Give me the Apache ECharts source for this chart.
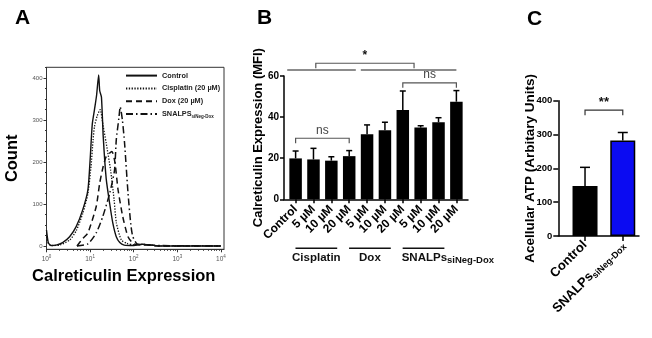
<!DOCTYPE html>
<html>
<head>
<meta charset="utf-8">
<script src="https://cdn.jsdelivr.net/npm/echarts@6/dist/echarts.min.js"></script>
<style>
html, body { margin: 0; padding: 0; background: #fff; }
#chart { width: 652px; height: 338px; }
</style>
</head>
<body>
<div id="chart"></div>
<script>
// ---- panel A: flow cytometry histograms, [intensity, count] ----
const histControl = [[1, 38], [1.1, 8], [1.26, 1], [1.66, 2], [2.34, 8], [3.39, 22], [4.79, 46], [6.76, 86],
  [8.91, 134], [10, 205], [11.2, 290], [12.6, 325], [14.1, 360], [15.7, 408], [16.6, 370], [18.2, 355],
  [20, 260], [23.4, 160], [28.2, 100], [33.1, 55], [39.8, 22], [47.9, 8], [60.3, 2], [100, 1], [158, 4],
  [251, 2], [398, 0], [10000, 0]];
const histCisplatin = [[1, 22], [1.1, 6], [1.3, 1], [2, 2], [3.4, 14], [4.8, 36], [6.8, 78], [8.9, 125],
  [10.5, 190], [11.7, 253], [12.6, 285], [14.5, 310], [17, 325], [20, 285], [23.4, 245], [29.5, 181],
  [35.5, 110], [40, 55], [52, 14], [70, 6], [100, 3], [160, 4], [250, 2], [400, 0], [10000, 0]];
const histDox = [[5, 0], [6.8, 18], [8.9, 31], [13.8, 94], [16.6, 150], [20, 190], [23.4, 213], [31.6, 225],
  [37, 200], [43.7, 134], [56, 70], [74, 22], [100, 5], [200, 2], [400, 0], [10000, 0]];
const histSnalps = [[5, 0], [8.9, 5], [13.8, 31], [19.5, 70], [28.2, 126], [36.3, 181], [39.8, 253],
  [45.7, 305], [49, 332], [55, 300], [61.7, 245], [74, 126], [86, 50], [95.5, 22], [123, 4], [200, 3],
  [400, 1], [10000, 0]];
const histNames = ['Control', 'Cisplatin (20 µM)', 'Dox (20 µM)', 'SNALPS'];
const countTicks = [0, 100, 200, 300, 400];
const decadeTicks = [0, 1, 2, 3, 4];

// ---- panel B: calreticulin MFI ----
const mfiLabels = ['Control', '5 µM', '10 µM', '20 µM', '5 µM', '10 µM', '20 µM', '5 µM', '10 µM', '20 µM'];
const mfiMean = [19.9, 19.4, 18.8, 21.0, 31.6, 33.6, 43.5, 34.9, 37.5, 47.5];
const mfiUpper = [23.5, 24.8, 20.7, 23.7, 36.2, 37.5, 52.7, 35.8, 39.7, 52.9];
const mfiGroups = [[1, 3, 'Cisplatin', ''], [4, 6, 'Dox', ''], [7, 9, 'SNALPs', 'siNeg-Dox']];
const mfiBrackets = [[0, 3, 29.7, 'ns'], [6, 9, 56.7, 'ns'], [1.13, 6.63, 66.2, '*']];
const mfiSpans = [[-0.47, 3.37, 62.9], [3.65, 9.0, 62.9]];

// ---- panel C: acellular ATP ----
const atpLabels = ['Control', 'SNALPs'];
const atpMean = [148, 282];
const atpUpper = [203, 306];
const atpBrackets = [[0, 1, 372, '**']];
const atpColors = ['#000000', '#0b0bf2'];

const FONT = '"Liberation Sans", Arial, sans-serif';
const chart = echarts.init(document.getElementById('chart'));

const toLog = pts => pts.map(p => [Math.log10(p[0]), p[1]]);
const minorX = [];
decadeTicks.slice(0, 4).forEach(d => { for (let k = 2; k < 10; k++) minorX.push(d + Math.log10(k)); });
const minorY = [];
for (let v = 25; v < 426; v += 25) if (v % 100) minorY.push(v);

function errorItem(cap) {
  return function (params, api) {
    const b = api.coord([api.value(0), api.value(1)]);
    const t = api.coord([api.value(0), api.value(2)]);
    const st = { stroke: '#000', lineWidth: 1.5 };
    return { type: 'group', children: [
      { type: 'line', shape: { x1: b[0], y1: b[1], x2: t[0], y2: t[1] }, style: st },
      { type: 'line', shape: { x1: t[0] - cap, y1: t[1], x2: t[0] + cap, y2: t[1] }, style: st }
    ] };
  };
}

function bracketItem(list, color, size) {
  return function (params, api) {
    const a = api.coord([api.value(0), api.value(2)]);
    const b = api.coord([api.value(1), api.value(2)]);
    const txt = list[params.dataIndex][3];
    const weight = txt.indexOf('*') >= 0 ? 'bold ' : '';
    return { type: 'group', children: [
      { type: 'polyline', shape: { points: [[a[0], a[1] + 5], [a[0], a[1]], [b[0], b[1]], [b[0], b[1] + 5]] },
        style: { stroke: color, lineWidth: 1.2, fill: null } },
      { type: 'text', style: { text: txt, x: (a[0] + b[0]) / 2, y: a[1] - 8, align: 'center',
        verticalAlign: 'middle', font: weight + size + 'px ' + FONT, fill: weight ? '#111' : '#444' } }
    ] };
  };
}

const letter = { fontSize: 21, fontWeight: 'bold', fontFamily: FONT, color: '#000' };

const option = {
  animation: false,
  title: [
    { text: 'A', left: 15, top: 8, padding: 0, textStyle: letter },
    { text: 'B', left: 257, top: 8, padding: 0, textStyle: letter },
    { text: 'C', left: 527, top: 9, padding: 0, textStyle: letter }
  ],
  legend: {
    data: histNames,
    orient: 'vertical',
    left: 125, top: 72, padding: 0,
    itemWidth: 31, itemHeight: 9, itemGap: 5.6,
    selectedMode: false,
    itemStyle: { opacity: 0 },
    lineStyle: { width: 2 },
    formatter: n => n === 'SNALPS' ? '{m|SNALPS}{s|siNeg-Dox}' : n,
    textStyle: { fontSize: 7.3, fontWeight: 'bold', fontFamily: FONT, color: '#222',
      rich: { m: { fontSize: 7.3, fontWeight: 'bold', fontFamily: FONT, color: '#222', lineHeight: 10 },
              s: { fontSize: 4.5, fontWeight: 'bold', fontFamily: FONT, color: '#222', verticalAlign: 'bottom', lineHeight: 10 } } }
  },
  grid: [
    { left: 46.5, top: 67.3, width: 177.5, height: 182, show: true, borderColor: '#333', borderWidth: 1, outerBoundsMode: 'none' },
    { left: 284, top: 76, width: 184, height: 123.3, outerBoundsMode: 'none' },
    { left: 558.3, top: 100.7, width: 80.7, height: 135.3, outerBoundsMode: 'none' }
  ],
  xAxis: [
    { gridIndex: 0, type: 'value', min: 0, max: 4.07, position: 'bottom',
      name: 'Calreticulin Expression', nameLocation: 'middle', nameGap: 19, nameMoveOverlap: false,
      nameTextStyle: { fontSize: 16.5, fontWeight: 'bold', fontFamily: FONT, color: '#000', padding: [0, 23, 0, 0] },
      axisLine: { onZero: false, lineStyle: { color: '#333', width: 1 } },
      axisTick: { customValues: decadeTicks, length: 3, lineStyle: { color: '#333' } },
      axisLabel: { customValues: decadeTicks, margin: 5, formatter: v => '{b|10}{s|' + v + '}',
        rich: { b: { fontSize: 6.5, fontFamily: FONT, color: '#555', lineHeight: 9 },
                s: { fontSize: 4.5, fontFamily: FONT, color: '#555', verticalAlign: 'top', lineHeight: 9 } } },
      splitLine: { show: false } },
    { gridIndex: 0, type: 'value', min: 0, max: 4.07, position: 'bottom',
      axisLine: { show: false, onZero: false }, axisLabel: { show: false }, splitLine: { show: false },
      axisTick: { customValues: minorX, length: 1.5, lineStyle: { color: '#333' } } },
    { gridIndex: 1, type: 'value', min: -0.65, max: 9.65, position: 'bottom',
      axisLine: { onZero: false, lineStyle: { color: '#000', width: 1.5 } },
      axisTick: { customValues: mfiLabels.map((l, i) => i), length: 4, lineStyle: { color: '#000', width: 1.5 } },
      axisLabel: { customValues: mfiLabels.map((l, i) => i), rotate: 45, margin: 8, formatter: v => mfiLabels[v],
        fontSize: 12, fontWeight: 'bold', fontFamily: FONT, color: '#000' },
      splitLine: { show: false } },
    { gridIndex: 2, type: 'value', min: -0.708, max: 1.43, position: 'bottom',
      axisLine: { onZero: false, lineStyle: { color: '#000', width: 1.5 } },
      axisTick: { customValues: [0, 1], length: 5, lineStyle: { color: '#000', width: 1.5 } },
      axisLabel: { customValues: [0, 1], rotate: 45, margin: 7,
        formatter: v => v === 1 ? '{a|SNALPs}{s|siNeg-Dox}' : '{a|' + atpLabels[v] + '}',
        rich: { a: { fontSize: 13, fontWeight: 'bold', fontFamily: FONT, color: '#000', lineHeight: 16 },
                s: { fontSize: 9, fontWeight: 'bold', fontFamily: FONT, color: '#000', verticalAlign: 'bottom', lineHeight: 16 } } },
      splitLine: { show: false } }
  ],
  yAxis: [
    { gridIndex: 0, type: 'value', min: -8, max: 426, position: 'left',
      name: 'Count', nameLocation: 'middle', nameGap: 26, nameMoveOverlap: false,
      nameTextStyle: { fontSize: 16.5, fontWeight: 'bold', fontFamily: FONT, color: '#000' },
      axisLine: { show: true, onZero: false, lineStyle: { color: '#333', width: 1 } },
      axisTick: { show: true, customValues: countTicks, length: 3, lineStyle: { color: '#333' } },
      axisLabel: { customValues: countTicks, margin: 4, fontSize: 6, fontFamily: FONT, color: '#555' },
      splitLine: { show: false } },
    { gridIndex: 0, type: 'value', min: -8, max: 426, position: 'left',
      axisLine: { show: false, onZero: false }, axisLabel: { show: false }, splitLine: { show: false },
      axisTick: { show: true, customValues: minorY, length: 1.5, lineStyle: { color: '#333' } } },
    { gridIndex: 1, type: 'value', min: 0, max: 60, interval: 20, position: 'left',
      name: 'Calreticulin Expression (MFI)', nameLocation: 'middle', nameGap: 19, nameMoveOverlap: false,
      nameTextStyle: { fontSize: 13, fontWeight: 'bold', fontFamily: FONT, color: '#000' },
      axisLine: { show: true, onZero: false, lineStyle: { color: '#000', width: 1.5 } },
      axisTick: { show: true, length: 4, lineStyle: { color: '#000', width: 1.5 } },
      axisLabel: { margin: 5, fontSize: 10, fontWeight: 'bold', fontFamily: FONT, color: '#000' },
      splitLine: { show: false } },
    { gridIndex: 2, type: 'value', min: 0, max: 400, interval: 100, position: 'left',
      name: 'Acellular ATP (Arbitary Units)', nameLocation: 'middle', nameGap: 21, nameMoveOverlap: false,
      nameTextStyle: { fontSize: 13.5, fontWeight: 'bold', fontFamily: FONT, color: '#000' },
      axisLine: { show: true, onZero: false, lineStyle: { color: '#000', width: 1.5 } },
      axisTick: { show: true, length: 5, lineStyle: { color: '#000', width: 1.5 } },
      axisLabel: { margin: 6, fontSize: 9.5, fontWeight: 'bold', fontFamily: FONT, color: '#000' },
      splitLine: { show: false } }
  ],
  series: [
    { type: 'line', name: histNames[0], xAxisIndex: 0, yAxisIndex: 0, data: toLog(histControl), symbol: 'none',
      smooth: 0.2, lineStyle: { color: '#111', width: 1.4, type: 'solid' }, itemStyle: { color: '#111' } },
    { type: 'line', name: histNames[1], xAxisIndex: 0, yAxisIndex: 0, data: toLog(histCisplatin), symbol: 'none',
      smooth: 0.2, lineStyle: { color: '#111', width: 1.3, type: [1.3, 1.5] }, itemStyle: { color: '#111' } },
    { type: 'line', name: histNames[2], xAxisIndex: 0, yAxisIndex: 0, data: toLog(histDox), symbol: 'none',
      smooth: 0.2, lineStyle: { color: '#111', width: 1.5, type: [6, 4] }, itemStyle: { color: '#111' } },
    { type: 'line', name: histNames[3], xAxisIndex: 0, yAxisIndex: 0, data: toLog(histSnalps), symbol: 'none',
      smooth: 0.2, lineStyle: { color: '#111', width: 1.5, type: [7, 3, 1.5, 3] }, itemStyle: { color: '#111' } },

    { type: 'bar', xAxisIndex: 2, yAxisIndex: 2, barWidth: 12.5, itemStyle: { color: '#000' },
      data: mfiMean.map((v, i) => [i, v]) },
    { type: 'custom', xAxisIndex: 2, yAxisIndex: 2, clip: false, z: 5, renderItem: errorItem(3),
      data: mfiMean.map((v, i) => [i, v, mfiUpper[i]]) },
    { type: 'custom', xAxisIndex: 2, yAxisIndex: 2, clip: false, z: 5,
      renderItem: bracketItem(mfiBrackets, '#555', 12), data: mfiBrackets.map(b => b.slice(0, 3)) },
    { type: 'custom', xAxisIndex: 2, yAxisIndex: 2, clip: false, z: 5,
      renderItem: (params, api) => {
        const a = api.coord([api.value(0), api.value(2)]);
        const b = api.coord([api.value(1), api.value(2)]);
        return { type: 'line', shape: { x1: a[0], y1: a[1], x2: b[0], y2: b[1] }, style: { stroke: '#666', lineWidth: 1.5 } };
      },
      data: mfiSpans },
    { type: 'custom', xAxisIndex: 2, yAxisIndex: 2, clip: false, z: 5,
      renderItem: (params, api) => {
        const g = mfiGroups[params.dataIndex];
        const a = api.coord([g[0], 0]);
        const b = api.coord([g[1], 0]);
        const x1 = a[0] - 18, x2 = b[0] - 12, y = a[1] + 49;
        const sub = g[3];
        return { type: 'group', children: [
          { type: 'line', shape: { x1: x1, y1: y, x2: x2, y2: y }, style: { stroke: '#111', lineWidth: 1.6 } },
          { type: 'text', style: {
            text: sub ? '{m|' + g[2] + '}{s|' + sub + '}' : g[2],
            x: sub ? x1 - 1 : (x1 + x2) / 2, y: y + 10, align: sub ? 'left' : 'center', verticalAlign: 'middle',
            font: 'bold 11.5px ' + FONT, fill: '#111',
            rich: { m: { fontSize: 11.5, fontWeight: 'bold', fontFamily: FONT, fill: '#111', lineHeight: 15 },
                    s: { fontSize: 9.5, fontWeight: 'bold', fontFamily: FONT, fill: '#111', verticalAlign: 'bottom', lineHeight: 15 } } } }
        ] };
      },
      data: mfiGroups.map(g => [g[0], g[1]]) },

    { type: 'bar', xAxisIndex: 3, yAxisIndex: 3, barWidth: 25,
      data: atpMean.map((v, i) => ({ value: [i, v], itemStyle: { color: atpColors[i], borderColor: '#000', borderWidth: 1.5 } })) },
    { type: 'custom', xAxisIndex: 3, yAxisIndex: 3, clip: false, z: 5, renderItem: errorItem(5),
      data: atpMean.map((v, i) => [i, v, atpUpper[i]]) },
    { type: 'custom', xAxisIndex: 3, yAxisIndex: 3, clip: false, z: 5,
      renderItem: bracketItem(atpBrackets, '#333', 13), data: atpBrackets.map(b => b.slice(0, 3)) }
  ]
};

chart.setOption(option);
</script>
</body>
</html>
